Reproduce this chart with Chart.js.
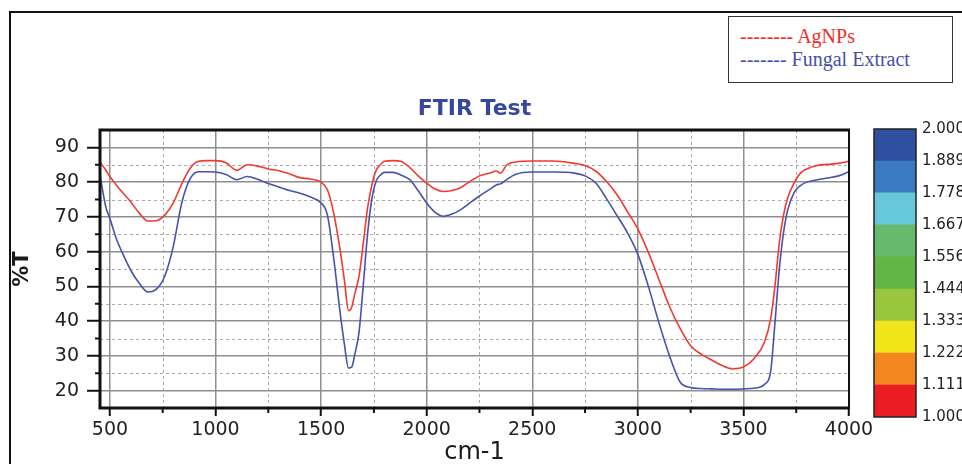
<!DOCTYPE html>
<html>
<head>
<meta charset="utf-8">
<title>FTIR Test</title>
<script src="https://cdn.jsdelivr.net/npm/chart.js@4/dist/chart.umd.min.js"></script>
<style>
  html, body { margin: 0; padding: 0; background: #fff; }
  body { width: 962px; height: 464px; position: relative; overflow: hidden; }
  #frame { position: absolute; left: 9px; top: 11px; width: 2000px; height: 2000px;
           border-left: 2px solid #111; border-top: 2px solid #111; }
  #main { position: absolute; left: 0; top: 0; }
  #scale { position: absolute; left: 860px; top: 110px; }
  #legend { position: absolute; left: 728px; top: 16px; width: 223px; height: 65px;
            border: 1.5px solid #333; background: #fff;
            font-family: "Liberation Serif", "Times New Roman", serif; font-size: 20px; line-height: 22px; }
  #legend div { position: absolute; left: 11px; white-space: pre; }
</style>
</head>
<body>
<div id="frame"></div>
<canvas id="main" width="962" height="464"></canvas>
<canvas id="scale" width="102" height="330"></canvas>
<div id="legend">
  <div style="top:8px;color:#ee2f2a">-------- AgNPs</div>
  <div style="top:31px;color:#4450a8">------- Fungal Extract</div>
</div>
<script>
// FTIR spectra
const wavenumbers = [
  453, 480, 500, 530, 560, 600, 640, 680, 720, 760,
  800, 840, 880, 920, 960, 1000, 1050, 1100, 1150, 1200,
  1250, 1300, 1350, 1400, 1450, 1500, 1530, 1560, 1590, 1610,
  1630, 1645, 1660, 1680, 1700, 1720, 1740, 1760, 1780, 1800,
  1840, 1880, 1920, 1960, 2000, 2040, 2080, 2120, 2160, 2200,
  2250, 2300, 2330, 2350, 2380, 2420, 2500, 2600, 2700, 2750,
  2800, 2850, 2900, 2950, 3000, 3050, 3100, 3150, 3200, 3250,
  3300, 3350, 3400, 3450, 3500, 3550, 3600, 3630, 3650, 3670,
  3690, 3710, 3740, 3770, 3800, 3850, 3900, 3950, 4000
];
const agnps = [
  85.8, 83.5, 81.6, 79.2, 77.0, 74.2, 71.0, 68.8, 68.9, 70.5,
  74.0, 79.5, 84.0, 86.0, 86.2, 86.2, 85.6, 83.4, 85.0, 84.6,
  83.8, 83.3, 82.4, 81.3, 80.9, 80.0, 77.8, 71.0, 60.5, 52.0,
  43.0, 44.0, 48.0, 53.0, 62.5, 72.5, 79.0, 83.3, 85.0, 86.0,
  86.2, 85.9, 84.2, 81.8, 79.7, 78.0, 77.3, 77.6, 78.4, 80.0,
  81.8, 82.6, 83.2, 82.6, 85.0, 85.8, 86.1, 86.1, 85.4, 84.8,
  83.2, 80.3, 76.5, 71.6, 66.5, 59.8, 52.0, 44.2, 37.9, 32.9,
  30.5, 28.8, 27.2, 26.3, 26.8, 29.2, 34.0, 41.0, 50.5, 62.5,
  70.5, 75.5, 79.8, 82.6, 83.8, 84.8, 85.1, 85.4, 86.0
];
const fungal = [
  82.0, 73.0, 69.5, 63.8, 59.5, 54.5, 50.8, 48.4, 49.2, 53.0,
  61.5, 74.0, 81.0, 83.0, 83.0, 82.9, 82.2, 80.7, 81.6, 80.8,
  79.6, 78.6, 77.6, 76.8, 75.7, 74.0, 70.5, 58.0, 42.5, 33.5,
  26.5, 26.8, 30.5, 37.0, 50.5, 65.0, 75.0, 80.2, 82.0, 82.8,
  82.8, 82.0, 80.7, 77.5, 74.0, 71.3, 70.2, 70.8, 72.0, 73.8,
  76.0, 78.0, 79.2, 79.5, 80.8, 82.2, 82.9, 82.9, 82.6, 81.8,
  79.8, 75.4, 70.5, 65.5, 59.2, 50.0, 39.5, 30.0, 22.5, 20.9,
  20.6, 20.5, 20.4, 20.4, 20.5, 20.7, 21.8, 26.0, 40.0, 55.0,
  65.5, 72.0, 77.0, 79.0, 80.0, 80.7, 81.2, 81.8, 83.0
];

const xTicks = [500, 1000, 1500, 2000, 2500, 3000, 3500, 4000];
const xMinorTicks = [750, 1250, 1750, 2250, 2750, 3250, 3750];
const yTicks = [20, 30, 40, 50, 60, 70, 80, 90];
const yMinorTicks = [25, 35, 45, 55, 65, 75, 85];

const colorbarEdges = [1.000, 1.111, 1.222, 1.333, 1.444, 1.556, 1.667, 1.778, 1.889, 2.000];
const colorbarColors = ['#ec1c24', '#f3861f', '#f2e61a', '#98c63c', '#60b746',
                        '#67b96b', '#66c8da', '#3a7ac2', '#2f50a0'];

const FONT = 'DejaVu Sans';

// dashed half-step grid + short minor ticks, then the plot frame
const minorGrid = {
  id: 'minorGrid',
  beforeDatasetsDraw(chart) {
    const { ctx, chartArea: a, scales: { x, y } } = chart;
    ctx.save();
    ctx.strokeStyle = '#aaaaaa';
    ctx.lineWidth = 1;
    ctx.setLineDash([3, 3]);
    yMinorTicks.forEach(v => {
      const py = Math.round(y.getPixelForValue(v)) + 0.5;
      ctx.beginPath(); ctx.moveTo(a.left, py); ctx.lineTo(a.right, py); ctx.stroke();
    });
    xMinorTicks.forEach(v => {
      const px = Math.round(x.getPixelForValue(v)) + 0.5;
      ctx.beginPath(); ctx.moveTo(px, a.top); ctx.lineTo(px, a.bottom); ctx.stroke();
    });
    ctx.setLineDash([]);
    ctx.strokeStyle = '#111';
    ctx.lineWidth = 2;
    yMinorTicks.forEach(v => {
      const py = y.getPixelForValue(v);
      ctx.beginPath(); ctx.moveTo(a.left - 5, py); ctx.lineTo(a.left, py); ctx.stroke();
    });
    xMinorTicks.forEach(v => {
      const px = x.getPixelForValue(v);
      ctx.beginPath(); ctx.moveTo(px, a.bottom); ctx.lineTo(px, a.bottom + 5); ctx.stroke();
    });
    ctx.restore();
  },
  afterDatasetsDraw(chart) {
    const { ctx, chartArea: a } = chart;
    ctx.save();
    ctx.strokeStyle = '#111';
    ctx.lineWidth = 2;
    ctx.beginPath(); ctx.moveTo(a.right, a.top); ctx.lineTo(a.right, a.bottom); ctx.stroke();
    ctx.lineWidth = 3;
    ctx.beginPath();
    ctx.moveTo(a.right + 1, a.top); ctx.lineTo(a.left, a.top);
    ctx.lineTo(a.left, a.bottom); ctx.lineTo(a.right + 1, a.bottom);
    ctx.stroke();
    ctx.restore();
  }
};

const gridStyle = { color: '#8e8e8e', lineWidth: 1.5, tickWidth: 2, tickColor: '#111' };

new Chart(document.getElementById('main'), {
  type: 'line',
  data: {
    datasets: [
      {
        label: 'AgNPs',
        data: wavenumbers.map((w, i) => ({ x: w, y: agnps[i] })),
        borderColor: '#f03a30',
        borderWidth: 1.6,
        pointRadius: 0,
        cubicInterpolationMode: 'monotone',
      },
      {
        label: 'Fungal Extract',
        data: wavenumbers.map((w, i) => ({ x: w, y: fungal[i] })),
        borderColor: '#4652ac',
        borderWidth: 1.6,
        pointRadius: 0,
        cubicInterpolationMode: 'monotone',
      },
    ],
  },
  options: {
    responsive: false,
    animation: false,
    layout: { padding: { left: 0, right: 113, top: 0, bottom: 0 } },
    scales: {
      x: {
        type: 'linear',
        min: 453,
        max: 4000,
        afterBuildTicks: s => { s.ticks = xTicks.map(v => ({ value: v })); },
        afterFit: s => { s.height = 56; },
        grid: { ...gridStyle, tickLength: 8 },
        border: { display: false },
        ticks: {
          font: { family: FONT, size: 19 }, color: '#222', padding: 3,
          maxRotation: 0, autoSkip: false, callback: v => String(v),
        },
        title: {
          display: true, text: 'cm-1', color: '#1a1a1a',
          font: { family: FONT, size: 24, lineHeight: 1 },
          padding: { top: 0, bottom: -1 },
        },
      },
      xTitle: {
        axis: 'x',
        type: 'linear',
        position: 'top',
        min: 0,
        max: 1,
        afterFit: s => { s.height = 130; },
        grid: { display: false, drawTicks: false },
        border: { display: false },
        ticks: { display: false },
        title: {
          display: true, text: 'FTIR Test', color: '#36489c',
          font: { family: FONT, size: 22, weight: 'bold', lineHeight: 1.2 },
          padding: { top: 96, bottom: 0 },
        },
      },
      y: {
        min: 15,
        max: 95,
        afterBuildTicks: s => { s.ticks = yTicks.map(v => ({ value: v })); },
        afterFit: s => { s.width = 100; },
        grid: { ...gridStyle, tickLength: 13 },
        border: { display: false },
        ticks: {
          font: { family: FONT, size: 19 }, color: '#222', padding: 8,
          callback: v => String(v),
        },
        title: {
          display: true, text: '%T', color: '#1a1a1a',
          font: { family: FONT, size: 21, weight: 'bold', lineHeight: 1.2 },
          padding: { top: 10, bottom: 0 },
        },
      },
    },
    plugins: {
      legend: { display: false },
      tooltip: { enabled: false },
    },
  },
  plugins: [minorGrid],
});

// colour scale on the right
const barFrame = {
  id: 'barFrame',
  afterDatasetsDraw(chart) {
    const { ctx, chartArea: a } = chart;
    ctx.save();
    ctx.strokeStyle = '#222';
    ctx.lineWidth = 1.5;
    ctx.strokeRect(a.left, a.top, a.right - a.left, a.bottom - a.top);
    ctx.restore();
  }
};

new Chart(document.getElementById('scale'), {
  type: 'bar',
  data: {
    labels: [''],
    datasets: colorbarColors.map((c, i) => ({
      data: [[colorbarEdges[i], colorbarEdges[i + 1]]],
      backgroundColor: c,
      borderWidth: 0,
      barPercentage: 1,
      categoryPercentage: 1,
    })),
  },
  options: {
    responsive: false,
    animation: false,
    layout: { padding: { left: 14, top: 19, bottom: 23, right: 0 } },
    scales: {
      x: { display: false, stacked: true },
      y: {
        position: 'right',
        min: 1,
        max: 2,
        afterBuildTicks: s => { s.ticks = colorbarEdges.map(v => ({ value: v })); },
        afterFit: s => { s.width = 46; },
        grid: { display: false, drawTicks: false },
        border: { display: false },
        ticks: {
          padding: 6, color: '#222',
          font: { family: FONT, size: 15 },
          callback: v => v.toFixed(3),
        },
      },
    },
    plugins: {
      legend: { display: false },
      tooltip: { enabled: false },
    },
  },
  plugins: [barFrame],
});
</script>
</body>
</html>
